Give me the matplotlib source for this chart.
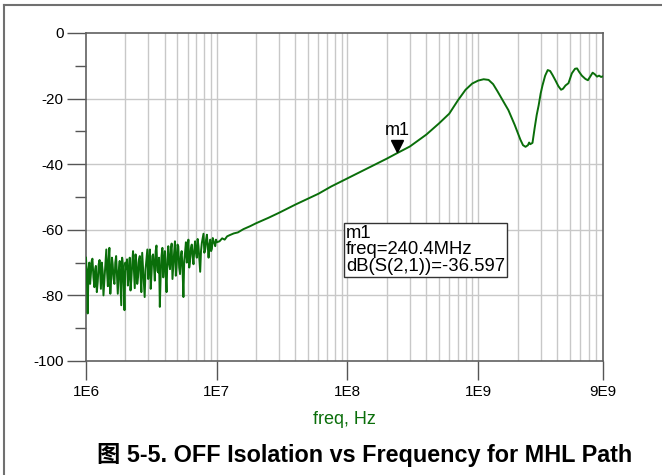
import numpy as np
import matplotlib
matplotlib.use("Agg")
import matplotlib.pyplot as plt
from matplotlib.ticker import FixedLocator, NullFormatter

plt.rcParams['font.family'] = ['Liberation Sans', 'Noto Sans CJK SC', 'DejaVu Sans']
plt.rcParams['axes.unicode_minus'] = False

# noisy low-frequency part (MHz, dB)
f_noise = [1.00, 1.015, 1.03, 1.045, 1.06, 1.075, 1.09, 1.105, 1.12, 1.14, 1.16, 1.175, 1.19, 1.21,
           1.23, 1.25, 1.27, 1.285, 1.30, 1.32, 1.34, 1.36, 1.38, 1.405, 1.43, 1.45, 1.47, 1.49,
           1.51, 1.535, 1.56, 1.58, 1.60, 1.625, 1.65, 1.675, 1.70, 1.725, 1.75, 1.78, 1.81,
           1.835, 1.86, 1.89, 1.92, 1.945, 1.97, 2.00, 2.03, 2.06, 2.09, 2.125, 2.16, 2.19, 2.22,
           2.255, 2.29, 2.325, 2.36, 2.395, 2.43, 2.465, 2.50, 2.54, 2.58, 2.615, 2.65, 2.69,
           2.73, 2.77, 2.81, 2.855, 2.90, 2.945, 2.99, 3.035, 3.08, 3.125, 3.17, 3.215, 3.26,
           3.31, 3.36, 3.41, 3.46, 3.515, 3.57, 3.62, 3.67, 3.725, 3.78, 3.84, 3.90, 3.955, 4.01,
           4.07, 4.13, 4.195, 4.26, 4.325, 4.39, 4.455, 4.52, 4.585, 4.65, 4.72, 4.79, 4.865,
           4.94, 5.01, 5.08, 5.16, 5.24, 5.315, 5.39, 5.475, 5.56, 5.64, 5.72, 5.81, 5.90, 5.985,
           6.07, 6.16, 6.25, 6.345, 6.44, 6.54, 6.64, 6.735, 6.83, 6.935, 7.04, 7.145, 7.25, 7.36,
           7.47, 7.58, 7.69, 7.805, 7.92, 8.04, 8.16, 8.285, 8.41, 8.535, 8.66, 8.79, 8.92, 9.05,
           9.18, 9.32, 9.46, 9.60, 9.74, 9.87, 10.0]
s21_noise = [-68.5, -74.0, -85.5, -72.0, -70.0, -76.5, -73.5, -69.5, -68.8, -74.5, -77.5, -72.0, -71.0,
             -79.0, -75.8, -70.5, -69.2, -74.0, -78.0, -70.0, -72.5, -80.0, -76.0, -71.5, -66.0,
             -73.0, -77.2, -69.0, -65.5, -79.5, -74.0, -68.5, -70.5, -75.0, -76.5, -70.0, -68.0,
             -73.5, -79.5, -72.5, -69.5, -76.0, -83.0, -68.5, -71.0, -77.0, -84.5, -70.0, -72.0,
             -69.0, -77.0, -73.0, -68.5, -78.5, -75.5, -70.5, -66.5, -72.5, -77.8, -67.5, -70.0,
             -76.5, -74.5, -69.0, -68.0, -74.0, -79.0, -67.0, -71.5, -75.5, -80.5, -72.0, -69.0,
             -66.0, -75.0, -70.0, -66.0, -78.0, -73.5, -68.0, -67.5, -71.0, -75.5, -66.5, -64.8,
             -72.5, -73.0, -68.5, -83.5, -74.0, -68.0, -65.5, -74.5, -70.0, -66.5, -73.5, -79.0,
             -69.0, -65.0, -70.5, -72.0, -66.0, -64.2, -75.0, -71.0, -67.0, -63.5, -74.0, -70.5,
             -64.5, -65.0, -71.5, -73.5, -68.0, -66.5, -72.0, -80.5, -69.5, -67.0, -63.8, -70.0,
             -66.0, -63.0, -71.5, -69.5, -65.5, -64.5, -68.0, -70.5, -66.0, -63.5, -67.0, -68.5,
             -62.8, -65.0, -69.0, -72.8, -66.5, -64.0, -62.5, -61.2, -67.0, -66.0, -63.0, -61.5,
             -65.0, -68.5, -64.5, -63.0, -66.5, -65.8, -62.5, -63.5, -64.2, -65.0, -63.0, -63.8]

# smooth part (MHz, dB)
f_smooth = [10.5, 11, 11.5, 12, 12.6, 13.5, 14.5, 16, 18, 20, 25, 30, 40, 50, 60, 75, 100, 130,
            160, 200, 240.4, 300, 400, 500, 600, 700, 800, 900, 1000, 1100, 1200, 1300, 1400,
            1500, 1600, 1700, 1800, 1900, 2000, 2100, 2200, 2300, 2400, 2450, 2500, 2600, 2700,
            2800, 2900, 3000, 3100, 3250, 3400, 3550, 3700, 3900, 4100, 4300, 4450, 4650, 4900,
            5200, 5500, 5700, 5900, 6200, 6600, 6900, 7200, 7500, 7800, 8100, 8400, 8700, 9000]
s21_smooth = [-63.5, -62.6, -63.0, -62.0, -61.6, -61.1, -60.8, -59.8, -58.9, -58.0, -56.3, -54.8, -52.3,
              -50.5, -49.0, -46.8, -44.3, -42.0, -40.2, -38.3, -36.6, -34.6, -31.0, -27.6, -24.6,
              -20.5, -17.3, -15.4, -14.5, -14.1, -14.3, -15.6, -17.7, -19.8, -21.7, -23.5, -25.8,
              -28.0, -30.3, -32.5, -34.2, -34.7, -34.2, -33.4, -33.9, -33.5, -29.0, -25.0, -22.0,
              -18.5, -16.0, -13.0, -11.3, -11.6, -12.8, -14.5, -16.2, -17.3, -17.0, -16.0, -15.3,
              -12.3, -10.9, -10.8, -11.8, -13.0, -14.0, -14.4, -13.2, -12.1, -12.6, -13.3, -13.0,
              -13.4, -13.2]

marker_freq = 240.4e6
marker_val = -36.597

freq = np.array(f_noise + f_smooth) * 1e6
s21 = np.array(s21_noise + s21_smooth)

x_major = [1e6, 1e7, 1e8, 1e9, 9e9]
x_labels = ["1E6", "1E7", "1E8", "1E9", "9E9"]
x_grid = [m * 10.0 ** e for e in range(6, 10) for m in range(1, 10)]

fig = plt.figure(figsize=(6.62, 4.75), dpi=100)
ax = fig.add_axes([86 / 662, 1 - 361 / 475, (603 - 86) / 662, (361 - 33) / 475])

ax.set_xscale('log')
ax.set_xlim(1e6, 9e9)
ax.set_ylim(-100, 0)

for g in x_grid:
    if 1e6 < g < 9e9:
        ax.axvline(g, color='#c8c8c8', lw=1.0, zorder=0)
for g in [-80, -60, -40, -20]:
    ax.axhline(g, color='#c8c8c8', lw=1.0, zorder=0)

ax.plot(freq, s21, color='#0a6e0a', lw=1.4, zorder=3)

# marker m1
ax.plot([marker_freq], [marker_val + 2.2], marker='v', color='black', ms=9, zorder=4)
ax.text(marker_freq, marker_val + 6.8, "m1", ha='center', va='center', fontsize=13, zorder=4)

ax.text(0.503, 0.4152, "m1\nfreq=240.4MHz\ndB(S(2,1))=-36.597", transform=ax.transAxes,
        ha='left', va='top', fontsize=13.3, linespacing=0.95, zorder=5,
        bbox=dict(boxstyle='square,pad=0.12', fc='white', ec='#333333', lw=1.0))

ax.xaxis.set_major_locator(FixedLocator(x_major))
ax.set_xticklabels(x_labels)
ax.xaxis.set_minor_formatter(NullFormatter())
ax.tick_params(axis='x', which='minor', length=0)
ax.set_yticks(range(-100, 1, 20))
ax.set_yticks(range(-90, 0, 20), minor=True)
ax.tick_params(which='major', length=14, width=1.0, color='#555555', labelsize=11, pad=2)
ax.tick_params(axis='y', which='minor', length=8, width=1.0, color='#555555')
ax.tick_params(axis='x', pad=3)
for sp in ax.spines.values():
    sp.set_color('#606060')
    sp.set_linewidth(1.2)

fig.text(344.5 / 662, 1 - 420 / 475, "freq, Hz", color='#0a6e0a', fontsize=13,
         ha='center', va='center')
fig.text(365 / 662, 1 - 455 / 475, "图 5-5. OFF Isolation vs Frequency for MHL Path",
         fontsize=16.8, fontweight='bold', ha='center', va='center')

# outer frame lines
fig.add_artist(plt.Line2D([4 / 662, 4 / 662], [0, 1 - 5 / 475], transform=fig.transFigure,
                          color='#707070', lw=1.5))
fig.add_artist(plt.Line2D([4 / 662, 1], [1 - 5 / 475, 1 - 5 / 475], transform=fig.transFigure,
                          color='#707070', lw=1.5))

fig.savefig("out.png", dpi=100)
